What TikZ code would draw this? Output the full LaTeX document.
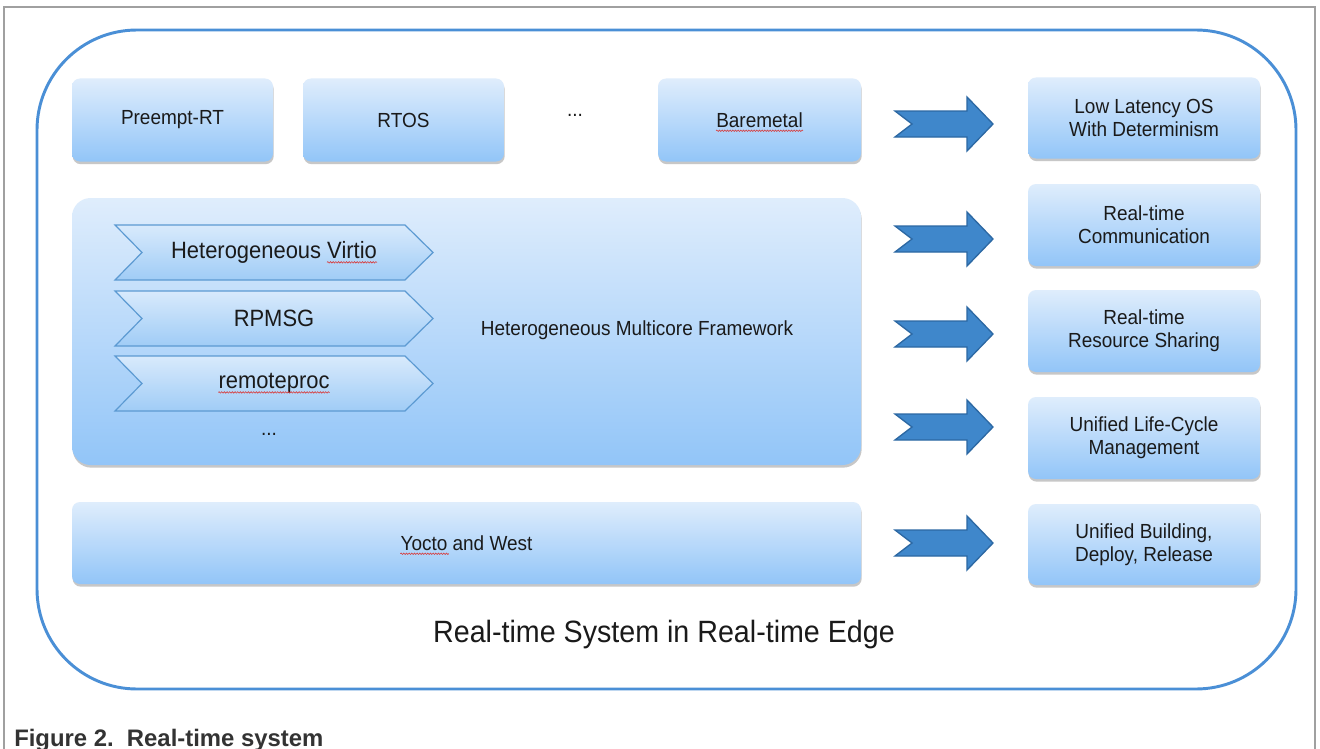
\documentclass[tikz,border=0pt]{standalone}
\usepackage{fontspec}
\setmainfont{Liberation Sans}
\newfontfamily\dfont[FakeStretch=0.93]{Liberation Sans}
\usetikzlibrary{shadows,decorations.pathmorphing,calc}
\definecolor{frameblue}{HTML}{4A8FD6}
\definecolor{boxtop}{HTML}{DFEDFC}
\definecolor{boxbot}{HTML}{92C5F8}
\definecolor{chevtop}{HTML}{D8EAFC}
\definecolor{chevbot}{HTML}{A0CCF6}
\definecolor{chevline}{HTML}{5C9AD2}
\definecolor{arrowfill}{HTML}{3F87CB}
\definecolor{arrowline}{HTML}{2C68A3}
\definecolor{txtcol}{HTML}{1A1A1A}
\definecolor{capcol}{HTML}{333333}
\definecolor{grayframe}{HTML}{A0A0A0}
\definecolor{squigred}{HTML}{D83A3A}
\begin{document}
\begin{tikzpicture}[x=0.75pt,y=-0.75pt,
  bx/.style={rounded corners=6pt, top color=boxtop, bottom color=boxbot, draw=none,
    drop shadow={opacity=0.4, fill=black!55, shadow xshift=0.5pt, shadow yshift=-2pt},
    inner sep=0pt, align=center, text=txtcol,
    font={\dfont\fontsize{15.3pt}{17.25pt}\selectfont}},
  bigbx/.style={bx, rounded corners=14pt},
  txt/.style={inner sep=0pt, align=center, text=txtcol,
    font={\dfont\fontsize{15.3pt}{17.25pt}\selectfont}},
  chevtxt/.style={inner sep=0pt, text=txtcol, font={\dfont\fontsize{17.7pt}{19pt}\selectfont}},
  chevsty/.style={top color=chevtop, bottom color=chevbot, draw=chevline, line width=0.9pt, line join=miter},
  arrowsty/.style={fill=arrowfill, draw=arrowline, line width=1pt, line join=miter},
  squig/.style={draw=squigred, line width=0.45pt, decorate,
    decoration={snake, amplitude=0.55pt, segment length=2pt}},
  barrow/.pic={\path[arrowsty] (-49,-13) -- (23,-13) -- (23,-27) -- (49,0) -- (23,27)
     -- (23,13) -- (-49,13) -- (-32,0) -- cycle;}
]
\useasboundingbox (0,0) rectangle (1320,749);
\fill[white] (0,0) rectangle (1320,749);

% outer gray frame
\draw[grayframe, line width=0.9pt] (4,760) -- (4,7) -- (1315,7) -- (1315,760);

% outer blue rounded frame
\draw[frameblue, line width=2.2pt, rounded corners=75pt] (37,30) rectangle (1296,689);

% top row
\node[bx, minimum width=150.75pt, minimum height=62.25pt] (preempt) at (172.5,120) {Preempt-RT};
\node[bx, minimum width=150.75pt, minimum height=62.25pt] (rtos) at (403.5,120) {RTOS};
\node[txt] (dots1) at (575,115) {...};
\node[bx, minimum width=152.25pt, minimum height=62.25pt] (bare) at (759.5,120) {};
\node[txt] (bareT) at (bare) {Baremetal};
\draw[squig] ([yshift=-2.6pt]bareT.base west) -- ([yshift=-2.6pt]bareT.base east);

% middle big box
\node[bigbx, minimum width=591.75pt, minimum height=200.25pt] (hmf) at (466.5,331.5) {};
\node[txt] (hmfT) at (637,330) {Heterogeneous Multicore Framework};

\newcommand\mychev[3]{%
  \path[chevsty] (115,#2-27.5) -- (405,#2-27.5) -- (433,#2) -- (405,#2+27.5)
     -- (115,#2+27.5) -- (142,#2) -- cycle;
  \node[chevtxt] (#1) at (274,#2) {#3};}
\mychev{virtT}{252.5}{Heterogeneous Virtio}
\mychev{rpmsgT}{318.5}{RPMSG}
\mychev{remT}{383.5}{remoteproc}
\draw[squig] ([xshift=-37.6pt,yshift=-2.8pt]virtT.base east) -- ([yshift=-2.8pt]virtT.base east);
\draw[squig] ([yshift=-2.8pt]remT.base west) -- ([yshift=-2.8pt]remT.base east);
\node[txt] (dots2) at (269,434) {...};

% bottom box
\node[bx, minimum width=591.75pt, minimum height=61.5pt] (yocto) at (466.5,543) {};
\node[txt] (yoT) at (yocto) {Yocto and West};
\draw[squig] ([yshift=-2.6pt]yoT.base west) -- ([xshift=36.4pt,yshift=-2.6pt]yoT.base west);

% right column
\node[bx, minimum width=174pt, minimum height=60.75pt] (lowlat) at (1144,118) {Low Latency OS\\With Determinism};
\node[bx, minimum width=174pt, minimum height=61.5pt] (comm) at (1144,225) {Real-time\\Communication};
\node[bx, minimum width=174pt, minimum height=61.5pt] (res) at (1144,331) {Real-time\\Resource Sharing};
\node[bx, minimum width=174pt, minimum height=61.5pt] (life) at (1144,438) {Unified Life-Cycle\\Management};
\node[bx, minimum width=174pt, minimum height=60.75pt] (build) at (1144,544.5) {Unified Building,\\Deploy, Release};

% block arrows
\pic at (944,124) {barrow};
\pic at (944,239) {barrow};
\pic at (944,334) {barrow};
\pic at (944,427) {barrow};
\pic at (944,543) {barrow};

% title
\node[inner sep=0pt, text=txtcol, font={\dfont\fontsize{23.1pt}{25pt}\selectfont}] (title) at (664,635) {Real-time System in Real-time Edge};

% caption
\node[inner sep=0pt, anchor=base west, text=capcol, font={\fontsize{17.9pt}{20pt}\selectfont\bfseries}] (cap) at (14,746) {Figure 2.\ \ Real-time system};
\end{tikzpicture}
\end{document}
